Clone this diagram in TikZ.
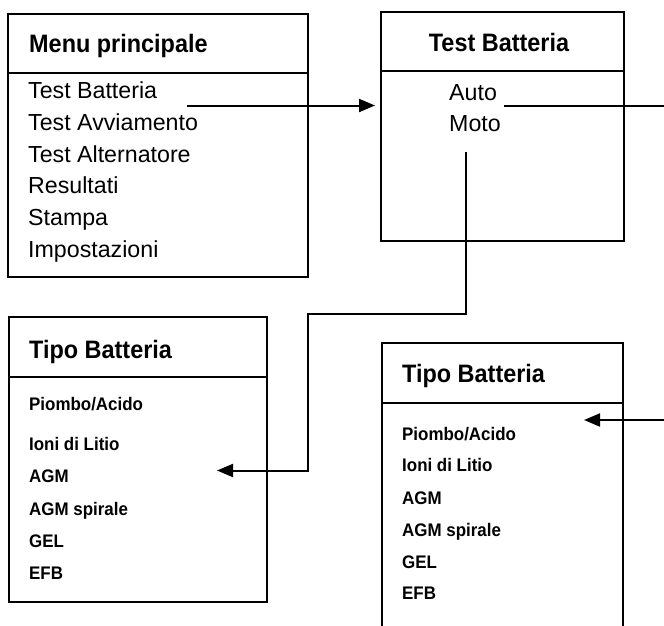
\documentclass[tikz,border=0pt]{standalone}
\usepackage{fontspec}
\setmainfont{Liberation Sans}[BoldFeatures={FakeStretch=0.93}]
\usetikzlibrary{arrows.meta}
\begin{document}
\begin{tikzpicture}[x=1pt,y=-1pt,
  panel/.style={draw, line width=2pt, inner sep=0pt, anchor=north west},
  divider/.style={line width=2pt},
  item/.style={inner sep=0pt, anchor=base west, font=\fontsize{23.2}{26}\selectfont},
  title/.style={inner sep=0pt, anchor=base west, font=\fontsize{25.2}{28}\selectfont\bfseries},
  small/.style={inner sep=0pt, anchor=base west, font=\fontsize{18.2}{21}\selectfont\bfseries},
  arrowlink/.style={line width=2pt, -{Triangle[length=16pt,width=13pt]}}]
\useasboundingbox (0,0) rectangle (664,626);
\clip (0,0) rectangle (664,626);

% Menu principale
\node[panel, minimum width=300pt, minimum height=263pt] (menu) at (7,13) {};
\draw[divider] (7,73) -- (307,73);
\node[title] (menut) at (29,53) {Menu principale};
\node[item] (m1) at (28,99) {Test Batteria};
\node[item] (m2) at (28,130.6) {Test Avviamento};
\node[item] (m3) at (28,162.2) {Test Alternatore};
\node[item] (m4) at (28,193.8) {Resultati};
\node[item] (m5) at (28,225.4) {Stampa};
\node[item] (m6) at (28,257) {Impostazioni};

% Test Batteria
\node[panel, minimum width=243pt, minimum height=229pt] (test) at (380,11) {};
\draw[divider] (380,71) -- (623,71);
\node[title, anchor=base] (testt) at (499,51.7) {Test Batteria};
\node[item] (auto) at (449,100) {Auto};
\node[item] (moto) at (449,131.7) {Moto};

% Tipo Batteria (left)
\node[panel, minimum width=258pt, minimum height=285pt] (tipoL) at (8,316) {};
\draw[divider] (8,377) -- (266,377);
\node[title] (tipoLt) at (29,358) {Tipo Batteria};
\node[small] (l1) at (29,410) {Piombo/Acido};
\node[small] (l2) at (29,450) {Ioni di Litio};
\node[small] (l3) at (29,482) {AGM};
\node[small] (l4) at (29,515) {AGM spirale};
\node[small] (l5) at (29,547.5) {GEL};
\node[small] (l6) at (29,579.5) {EFB};

% Tipo Batteria (right), runs off the bottom
\node[panel, minimum width=241pt, minimum height=300pt] (tipoR) at (381,342) {};
\draw[divider] (381,403) -- (622,403);
\node[title] (tipoRt) at (402,382.7) {Tipo Batteria};
\node[small] (r1) at (402,440) {Piombo/Acido};
\node[small] (r2) at (402,471.7) {Ioni di Litio};
\node[small] (r3) at (402,504) {AGM};
\node[small] (r4) at (402,536) {AGM spirale};
\node[small] (r5) at (402,568.3) {GEL};
\node[small] (r6) at (402,599.3) {EFB};

% connector end points
\coordinate (s1) at (187,105.5);
\coordinate (e1) at (375,105.5);
\coordinate (sauto) at (504,106);
\coordinate (eauto) at (584,420);
\coordinate (smoto) at (466,152);
\coordinate (emoto) at (217,470.5);

\draw[arrowlink] (s1) -- (e1);
\draw[arrowlink] (sauto) -- (690,106) -- (690,420) -- (eauto);
\draw[arrowlink] (smoto) -- (466,314) -- (308,314) -- (308,470.5) -- (emoto);
\end{tikzpicture}
\end{document}
